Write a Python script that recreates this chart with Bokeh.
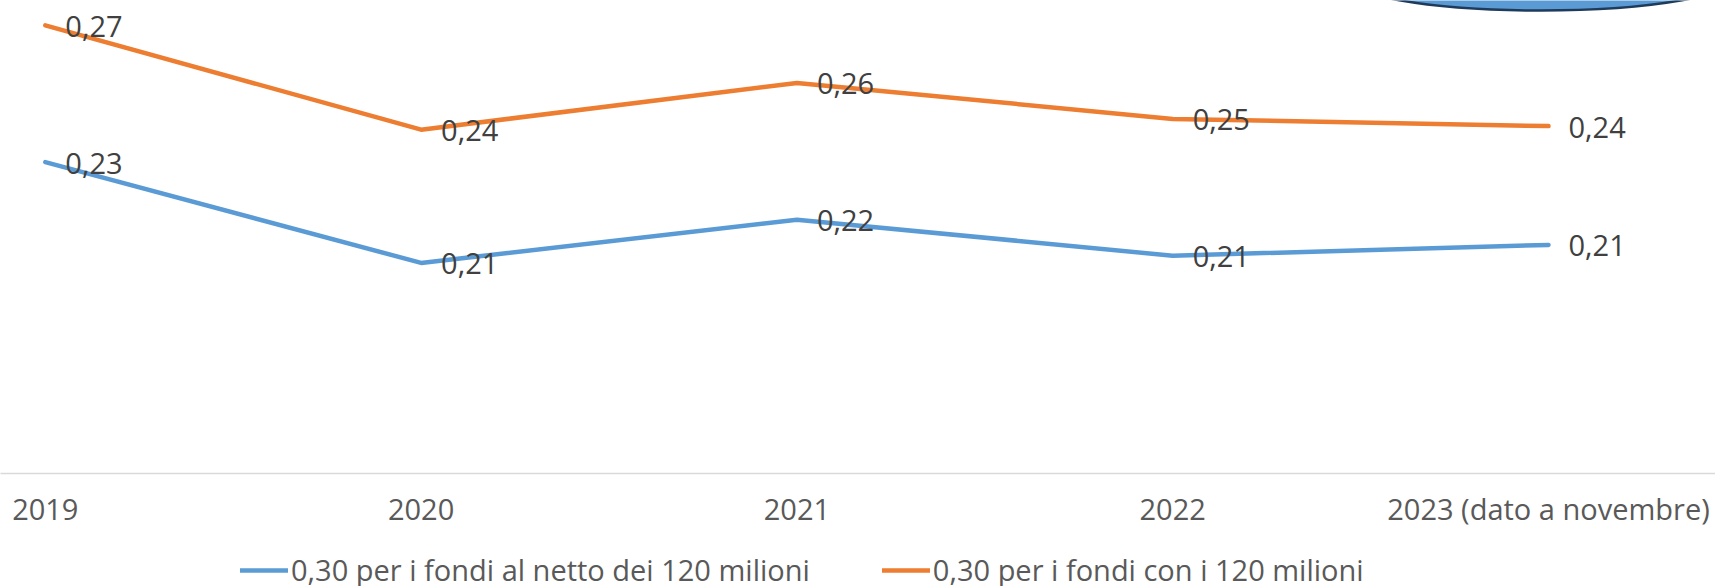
from bokeh.plotting import figure
from bokeh.layouts import column
from bokeh.models import Range1d, FixedTicker, Legend, LegendItem
from bokeh.core.properties import value
from bokeh.embed import file_html
from bokeh.resources import INLINE

# ---- data ----
years = ["2019", "2020", "2021", "2022", "2023 (dato a novembre)"]
netto = [0.234, 0.206, 0.218, 0.208, 0.211]
con = [0.272, 0.243, 0.256, 0.246, 0.244]
names = ["0,30 per i fondi al netto dei 120 milioni", "0,30 per i fondi con i 120 milioni"]
colors = ["#5B9BD5", "#ED7D31"]


def fmt(v):
    return f"{v:.2f}".replace(".", ",")


FONT = "Open Sans"
FS = "29px"
xs = list(range(len(years)))
nan = float("nan")

p = figure(width=1715, frame_height=473, output_backend="svg", toolbar_location=None,
           x_range=Range1d(-0.1192, 4.4444), y_range=Range1d(0.1475, 0.27889),
           min_border_left=0, min_border_right=0, min_border_top=0, min_border_bottom=0,
           y_axis_location=None)
p.outline_line_color = None
p.grid.visible = False
p.background_fill_color = "white"

# decorative shape partly visible at the top right of the original slide
p.ellipse(x=[3.979], y=[0.28583], width=400, height=70, width_units="screen",
          height_units="screen", fill_color="#5B9BD5", line_color="#1F3B5C", line_width=2.5)

for vals, col in zip([netto, con], colors):
    p.line(xs, vals, line_color=col, line_width=4.5, line_cap="round", line_join="round")
    p.text(xs, vals, text=[fmt(v) for v in vals], x_offset=20, y_offset=1, text_align="left",
           text_baseline="middle", text_font=value(FONT), text_font_size=FS,
           text_color="#404040")

ax = p.xaxis[0]
ax.ticker = FixedTicker(ticks=xs)
ax.major_label_overrides = {i: y for i, y in enumerate(years)}
ax.major_tick_out = 0
ax.major_tick_in = 0
ax.minor_tick_out = 0
ax.minor_tick_in = 0
ax.axis_line_color = "#D9D9D9"
ax.axis_line_width = 1.5
ax.major_label_text_font = FONT
ax.major_label_text_font_size = FS
ax.major_label_text_color = "#595959"
ax.major_label_standoff = 15

# legend strip below the chart
p2 = figure(width=1715, height=58, output_backend="svg", toolbar_location=None,
            x_axis_location=None, y_axis_location=None,
            x_range=Range1d(0, 1), y_range=Range1d(0, 1),
            min_border_left=0, min_border_right=0, min_border_top=0, min_border_bottom=0)
p2.outline_line_color = None
p2.grid.visible = False
keys = [p2.line([nan], [nan], line_color=col, line_width=4.5, line_cap="round") for col in colors]

legend = Legend(items=[LegendItem(label=n, renderers=[r]) for n, r in zip(names, keys)],
                orientation="horizontal", location=(240, -1),
                glyph_width=48, glyph_height=20, label_standoff=3, spacing=72,
                padding=0, margin=0, border_line_color=None, background_fill_alpha=0,
                label_text_font=FONT, label_text_font_size=FS,
                label_text_color="#595959")
p2.add_layout(legend, "center")

layout = column(p, p2, spacing=0)
open("out.html", "w").write(file_html(layout, INLINE))
